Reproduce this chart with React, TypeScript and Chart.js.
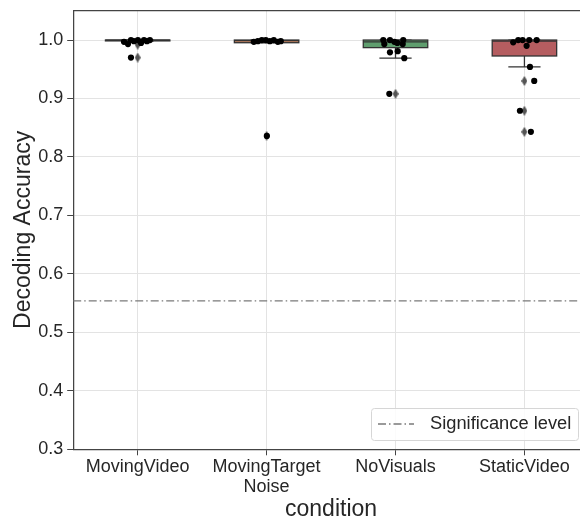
import React, { useEffect, useRef } from 'react';
import { Chart, registerables } from 'chart.js';

Chart.register(...registerables);

// ---------- data ----------
const categories = ['MovingVideo', 'MovingTarget\nNoise', 'NoVisuals', 'StaticVideo'];
const xTitle = 'condition';
const yTitle = 'Decoding Accuracy';
const legendLabel = 'Significance level';
const yTickValues = [0.3, 0.4, 0.5, 0.6, 0.7, 0.8, 0.9, 1.0];
const significanceLevel = 0.554;

// box-plot statistics per condition
const q1 = [0.9985, 0.9954, 0.987, 0.9727];
const median = [1.0, 0.999, 0.997, 0.998];
const q3 = [1.0, 1.0, 1.0, 1.0];
const whiskerLow = [0.9985, 0.9954, 0.969, 0.954];
const whiskerHigh = [1.0, 1.0, 1.0, 1.0];

// individual accuracies (strip plot) and their horizontal jitter (category units)
const movingVideoVals = [0.997, 0.993, 1.0, 0.998, 1.0, 0.995, 1.0, 0.998, 1.0, 0.970];
const movingVideoJitter = [-0.106, -0.075, -0.052, -0.029, 0.002, 0.026, 0.049, 0.072, 0.095, -0.052];
const movingTargetVals = [0.997, 0.998, 1.0, 1.0, 0.998, 1.0, 0.997, 0.998, 0.836];
const movingTargetJitter = [-0.099, -0.068, -0.037, -0.006, 0.025, 0.056, 0.087, 0.11, 0.002];
const noVisualsVals = [1.0, 1.0, 0.997, 0.995, 1.0, 0.993, 0.993, 0.979, 0.981, 0.969, 0.908];
const noVisualsJitter = [-0.095, -0.043, -0.009, 0.014, 0.06, -0.087, 0.056, -0.043, 0.017, 0.068, -0.048];
const staticVideoVals = [0.996, 1.0, 1.0, 0.99, 1.0, 1.0, 0.954, 0.93, 0.879, 0.843];
const staticVideoJitter = [-0.087, -0.048, -0.014, 0.017, 0.037, 0.095, 0.043, 0.076, -0.035, 0.05];

// outliers (box-plot fliers)
const movingVideoFliers = [0.992, 0.97];
const movingTargetFliers = [0.836];
const noVisualsFliers = [0.908];
const staticVideoFliers = [0.93, 0.879, 0.843];

const allVals = [movingVideoVals, movingTargetVals, noVisualsVals, staticVideoVals];
const allJitter = [movingVideoJitter, movingTargetJitter, noVisualsJitter, staticVideoJitter];
const allFliers = [movingVideoFliers, movingTargetFliers, noVisualsFliers, staticVideoFliers];

// ---------- styles ----------
const boxColors = ['#5975a4', '#cc8963', '#5f9e6e', '#b55d60'];
const FONT = '"Liberation Sans", Arial, sans-serif';
const TEXT = '#262626';
const SPINE = '#444444';
const GRID = '#e3e3e3';
const X_MIN = -0.5;
const X_MAX = 3.431;
const Y_MIN = 0.3;
const Y_MAX = 1.0505;

function makeDiamond(): HTMLCanvasElement {
  const c = document.createElement('canvas');
  c.width = 6;
  c.height = 10;
  const g = c.getContext('2d')!;
  g.fillStyle = '#555555';
  g.beginPath();
  g.moveTo(3, 0);
  g.lineTo(6, 5);
  g.lineTo(3, 10);
  g.lineTo(0, 5);
  g.closePath();
  g.fill();
  return c;
}

const boxPlugin = {
  id: 'boxes',
  beforeDatasetsDraw(chart: any) {
    const { ctx, chartArea } = chart;
    const xs = chart.scales.x;
    const ys = chart.scales.y;
    ctx.save();
    ctx.beginPath();
    ctx.rect(chartArea.left, chartArea.top, chartArea.right - chartArea.left, chartArea.bottom - chartArea.top);
    ctx.clip();
    for (let i = 0; i < categories.length; i++) {
      const xc = xs.getPixelForValue(i);
      const hw = xs.getPixelForValue(i + 0.25) - xc;
      const cw = hw / 2;
      const yq1 = ys.getPixelForValue(q1[i]);
      const yq3 = ys.getPixelForValue(q3[i]);
      const ym = ys.getPixelForValue(median[i]);
      const ywl = ys.getPixelForValue(whiskerLow[i]);
      const ywh = ys.getPixelForValue(whiskerHigh[i]);
      ctx.strokeStyle = '#333333';
      ctx.lineWidth = 1.3;
      ctx.beginPath();
      ctx.moveTo(xc, yq1);
      ctx.lineTo(xc, ywl);
      ctx.moveTo(xc - cw, ywl);
      ctx.lineTo(xc + cw, ywl);
      ctx.moveTo(xc, yq3);
      ctx.lineTo(xc, ywh);
      ctx.moveTo(xc - cw, ywh);
      ctx.lineTo(xc + cw, ywh);
      ctx.stroke();
      ctx.fillStyle = boxColors[i];
      ctx.fillRect(xc - hw, yq3, 2 * hw, yq1 - yq3);
      ctx.strokeRect(xc - hw, yq3, 2 * hw, yq1 - yq3);
      ctx.beginPath();
      ctx.moveTo(xc - hw, ym);
      ctx.lineTo(xc + hw, ym);
      ctx.stroke();
    }
    ctx.restore();
  },
  afterDraw(chart: any) {
    const { ctx, chartArea } = chart;
    const xs = chart.scales.x;
    ctx.save();
    // top spine
    ctx.strokeStyle = SPINE;
    ctx.lineWidth = 1.25;
    ctx.beginPath();
    ctx.moveTo(chartArea.left, chartArea.top);
    ctx.lineTo(chartArea.right, chartArea.top);
    ctx.stroke();
    // x-axis title, centred on the category band
    ctx.fillStyle = TEXT;
    ctx.font = `23px ${FONT}`;
    ctx.textAlign = 'center';
    ctx.textBaseline = 'middle';
    ctx.fillText(xTitle, xs.getPixelForValue((categories.length - 1) / 2), 510);
    // legend
    const lx = 371, ly = 408, lw = 207, lh = 32;
    ctx.fillStyle = 'rgba(255,255,255,0.85)';
    ctx.strokeStyle = '#d6d6d6';
    ctx.lineWidth = 1;
    ctx.beginPath();
    (ctx as any).roundRect(lx + 0.5, ly + 0.5, lw, lh, 3);
    ctx.fill();
    ctx.stroke();
    ctx.strokeStyle = '#7a7a7a';
    ctx.lineWidth = 1.3;
    ctx.setLineDash([8, 3, 1.5, 3]);
    ctx.beginPath();
    ctx.moveTo(378, 424);
    ctx.lineTo(414, 424);
    ctx.stroke();
    ctx.setLineDash([]);
    ctx.fillStyle = TEXT;
    ctx.font = `18.3px ${FONT}`;
    ctx.textBaseline = 'middle';
    ctx.textAlign = 'left';
    ctx.fillText(legendLabel, 430, 424);
    ctx.restore();
  },
};

export default function App() {
  const ref = useRef<HTMLCanvasElement>(null);
  useEffect(() => {
    if (!ref.current) return;
    const diamond = makeDiamond();
    const pointData: { x: number; y: number }[] = [];
    allVals.forEach((vals, i) => vals.forEach((v, j) => pointData.push({ x: i + allJitter[i][j], y: v })));
    const flierData: { x: number; y: number }[] = [];
    allFliers.forEach((vals, i) => vals.forEach((v) => flierData.push({ x: i, y: v })));

    const chart = new Chart(ref.current, {
      type: 'scatter',
      data: {
        datasets: [
          {
            label: 'points',
            data: pointData,
            backgroundColor: '#000000',
            borderColor: '#000000',
            pointRadius: 3.1,
            borderWidth: 0,
            order: 0,
          },
          {
            label: 'fliers',
            data: flierData,
            pointStyle: diamond as any,
            pointRadius: 5,
            order: 1,
          },
          {
            type: 'line',
            label: legendLabel,
            data: [
              { x: X_MIN, y: significanceLevel },
              { x: X_MAX, y: significanceLevel },
            ],
            borderColor: '#7a7a7a',
            borderWidth: 1.3,
            borderDash: [8, 3, 1.5, 3],
            pointRadius: 0,
            order: 2,
          } as any,
        ],
      },
      options: {
        animation: false,
        responsive: true,
        maintainAspectRatio: false,
        layout: { autoPadding: false, padding: { top: 10.5, right: 0, left: 0, bottom: 0 } },
        plugins: { legend: { display: false }, tooltip: { enabled: false } },
        scales: {
          x: {
            type: 'linear',
            min: X_MIN,
            max: X_MAX,
            bounds: 'data',
            afterBuildTicks: (scale: any) => {
              scale.ticks = categories.map((_, i) => ({ value: i }));
            },
            afterFit: (scale: any) => {
              scale.height = 70.7;
              scale.paddingLeft = 0;
              scale.paddingRight = 0;
            },
            ticks: {
              autoSkip: false,
              maxRotation: 0,
              padding: 2,
              color: TEXT,
              font: { family: FONT, size: 18, lineHeight: 1.1 },
              callback: (v: any) => {
                const c = categories[Math.round(Number(v))];
                return c ? c.split('\n') : '';
              },
            },
            grid: { color: GRID, tickColor: SPINE, tickLength: 6, lineWidth: 1 },
            border: { color: SPINE, width: 1.25 },
            title: { display: false },
          },
          y: {
            type: 'linear',
            min: Y_MIN,
            max: Y_MAX,
            afterBuildTicks: (scale: any) => {
              scale.ticks = yTickValues.map((v) => ({ value: v }));
            },
            afterFit: (scale: any) => {
              scale.width = 73.2;
              scale.paddingTop = 0;
              scale.paddingBottom = 0;
            },
            ticks: {
              padding: 4,
              color: TEXT,
              font: { family: FONT, size: 18 },
              callback: (v: any) => Number(v).toFixed(1),
            },
            grid: { color: GRID, tickColor: SPINE, tickLength: 6, lineWidth: 1 },
            border: { color: SPINE, width: 1.25 },
            title: {
              display: true,
              text: yTitle,
              color: TEXT,
              font: { family: FONT, size: 23, lineHeight: 1.2 },
              padding: { top: 10, bottom: 0 },
            },
          },
        },
      },
      plugins: [boxPlugin],
    });
    return () => chart.destroy();
  }, []);

  return (
    <div style={{ position: 'absolute', left: 0, top: 0, width: 580, height: 520 }}>
      <canvas ref={ref} />
    </div>
  );
}
